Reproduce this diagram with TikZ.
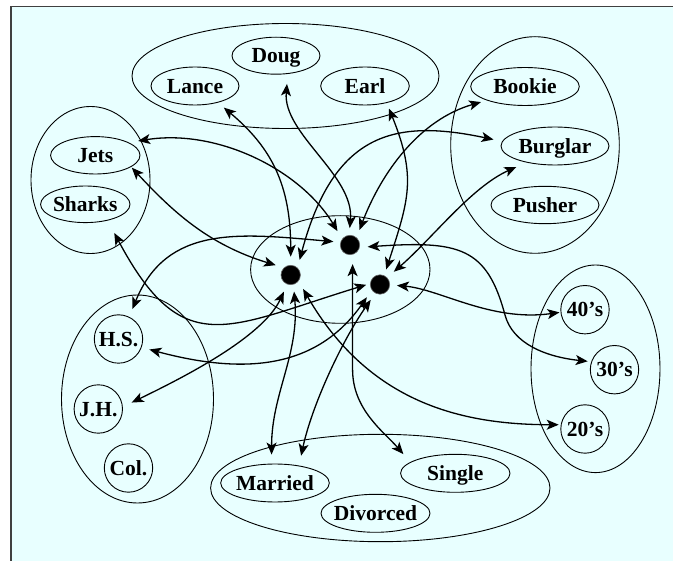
\documentclass[tikz,border=0pt]{standalone}
\usepackage{fontspec}
\setmainfont{Liberation Serif}
\usetikzlibrary{shapes.geometric,arrows.meta}
\definecolor{bgcyan}{HTML}{E8FFFF}
\definecolor{framegray}{HTML}{404040}
\newcommand{\zlbl}[1]{\makebox[0pt][c]{#1}}
\begin{document}
\begin{tikzpicture}[x=1pt,y=1pt,
  lab/.style={font=\fontsize{21.5}{24}\selectfont\bfseries, text height=14.3pt, text depth=0pt, inner sep=0pt},
  item/.style={lab, draw, ellipse, line width=0.9pt},
  circ/.style={lab, draw, circle, minimum size=48.4pt, line width=0.9pt},
  grp/.style={draw, ellipse, inner sep=0pt, line width=0.9pt},
  blackdot/.style={circle, fill=black, draw=black!60, line width=0.6pt, minimum size=19.4pt, inner sep=0pt},
  link/.style={<->, line width=1.3pt, >={Stealth[length=12pt,width=10pt,inset=3pt]}},
]
\useasboundingbox (0,0) rectangle (673,-561);
\fill[bgcyan] (11,-6.7) rectangle (673,-561);
\draw[framegray, line width=1.5pt] (11,-561) -- (11,-6.7) -- (673,-6.7);

% groups
\node[grp, minimum width=307pt, minimum height=105pt] (gnames) at (285.5,-76) {};
\node[grp, minimum width=168.6pt, minimum height=216.6pt] (gjobs) at (535,-145) {};
\node[grp, minimum width=119pt, minimum height=147pt] (ggangs) at (90.5,-180) {};
\node[grp, minimum width=179.4pt, minimum height=107.6pt] (gcore) at (340.3,-269.5) {};
\node[grp, minimum width=152pt, minimum height=208pt] (gedu) at (137.5,-399) {};
\node[grp, minimum width=339.4pt, minimum height=107.4pt] (gmar) at (380.3,-488) {};
\node[grp, minimum width=129pt, minimum height=207.6pt] (gage) at (595.5,-368.8) {};

% items
\node[item, minimum width=88pt, minimum height=37pt] (doug) at (276,-55.7) {\zlbl{Doug}};
\node[item, minimum width=88pt, minimum height=38pt] (lance) at (195,-86) {\zlbl{Lance}};
\node[item, minimum width=88.6pt, minimum height=38pt] (earl) at (365,-86) {\zlbl{Earl}};
\node[item, minimum width=108.6pt, minimum height=38pt] (bookie) at (525,-86.5) {\zlbl{Bookie}};
\node[item, minimum width=108pt, minimum height=38pt] (burglar) at (555,-146) {\zlbl{Burglar}};
\node[item, minimum width=108pt, minimum height=37.4pt] (pusher) at (545,-205) {\zlbl{Pusher}};
\node[item, minimum width=89.4pt, minimum height=37.4pt] (jets) at (95.3,-155.3) {\zlbl{Jets}};
\node[item, minimum width=89.4pt, minimum height=36.6pt] (sharks) at (85.3,-204.3) {\zlbl{Sharks}};
\node[item, minimum width=108.6pt, minimum height=38pt] (married) at (275,-483) {\zlbl{Married}};
\node[item, minimum width=109pt, minimum height=38pt] (divorced) at (375.5,-513.3) {\zlbl{Divorced}};
\node[item, minimum width=109.4pt, minimum height=38pt] (single) at (455.3,-473.3) {\zlbl{Single}};
\node[circ] (hs) at (118.5,-339) {\zlbl{H.S.}};
\node[circ] (jh) at (98.3,-409) {\zlbl{J.H.}};
\node[circ] (col) at (128.5,-468) {\zlbl{Col.}};
\node[circ] (ag40) at (585,-309.7) {\zlbl{40’s}};
\node[circ] (ag30) at (614.5,-369.7) {\zlbl{30’s}};
\node[circ] (ag20) at (585,-429) {\zlbl{20’s}};

% hidden units
\node[blackdot] (A) at (290.7,-275) {};
\node[blackdot] (B) at (350,-245) {};
\node[blackdot] (C) at (380,-284.5) {};

% connections of A
\draw[link, shorten <=8.3pt, shorten >=7.7pt] (A.90) .. controls +(90:80) and +(-40:70) .. (lance.-36);
\draw[link, shorten <=8pt, shorten >=8.8pt] (A.47) .. controls +(75:140) and +(168:110) .. (burglar.175);
\draw[link, shorten <=8.5pt, shorten >=1pt] (A.133) .. controls +(163:80) and +(-47:60) .. (jets.-18);
\draw[link, shorten <=8pt, shorten >=9.8pt] (A.-110) .. controls +(-115:60) and +(26:60) .. (jh.5);
\draw[link, shorten <=7pt, shorten >=9pt] (A.-74) .. controls +(-85:70) and +(90:70) .. (married.100);
\draw[link, shorten <=9pt, shorten >=2pt] (A.-38) .. controls +(-60:140) and +(180:100) .. (ag20.170);
% connections of B
\draw[link, shorten <=9pt, shorten >=9.5pt] (B.142) .. controls +(121:80) and +(9:90) .. (jets.21);
\draw[link, shorten <=7pt, shorten >=8.4pt] (B.164) .. controls +(175:100) and +(68:100) .. (hs.64);
\draw[link, shorten <=7pt, shorten >=10pt] (B.95) .. controls +(85:60) and +(-95:60) .. (doug.-57);
\draw[link, shorten <=8pt, shorten >=6pt] (B.49) .. controls +(69:70) and +(-164:70) .. (bookie.-160);
\draw[link, shorten <=8pt, shorten >=3.5pt] (B.-14) .. controls +(4:100) and +(105:70) .. (505,-315) .. controls +(-75:30) and +(174:45) .. (ag30.161);
\draw[link, shorten <=9.5pt, shorten >=10.5pt] (B.-75) -- ++(0,-115) .. controls +(-90:40) and +(131:40) .. (single.166);
% connections of C
\draw[link, shorten <=6.3pt, shorten >=6pt] (C.65) .. controls +(72:80) and +(-68:80) .. (earl.-38);
\draw[link, shorten <=8.8pt, shorten >=11pt] (C.44) .. controls +(41:60) and +(-156:60) .. (burglar.-150);
\draw[link, shorten <=7pt, shorten >=1pt] (C.-2) .. controls +(-5:50) and +(-172:70) .. (ag40.186);
\draw[link, shorten <=4pt, shorten >=14pt] (C.175) .. controls +(197:150) and +(-62:160) .. (sharks.-36);
\draw[link, shorten <=8.6pt, shorten >=8pt] (C.-145) .. controls +(235:100) and +(-15:100) .. (hs.-20);
\draw[link, shorten <=8pt, shorten >=10pt] (C.-118) .. controls +(-125:60) and +(78:60) .. (married.36);
\end{tikzpicture}
\end{document}
